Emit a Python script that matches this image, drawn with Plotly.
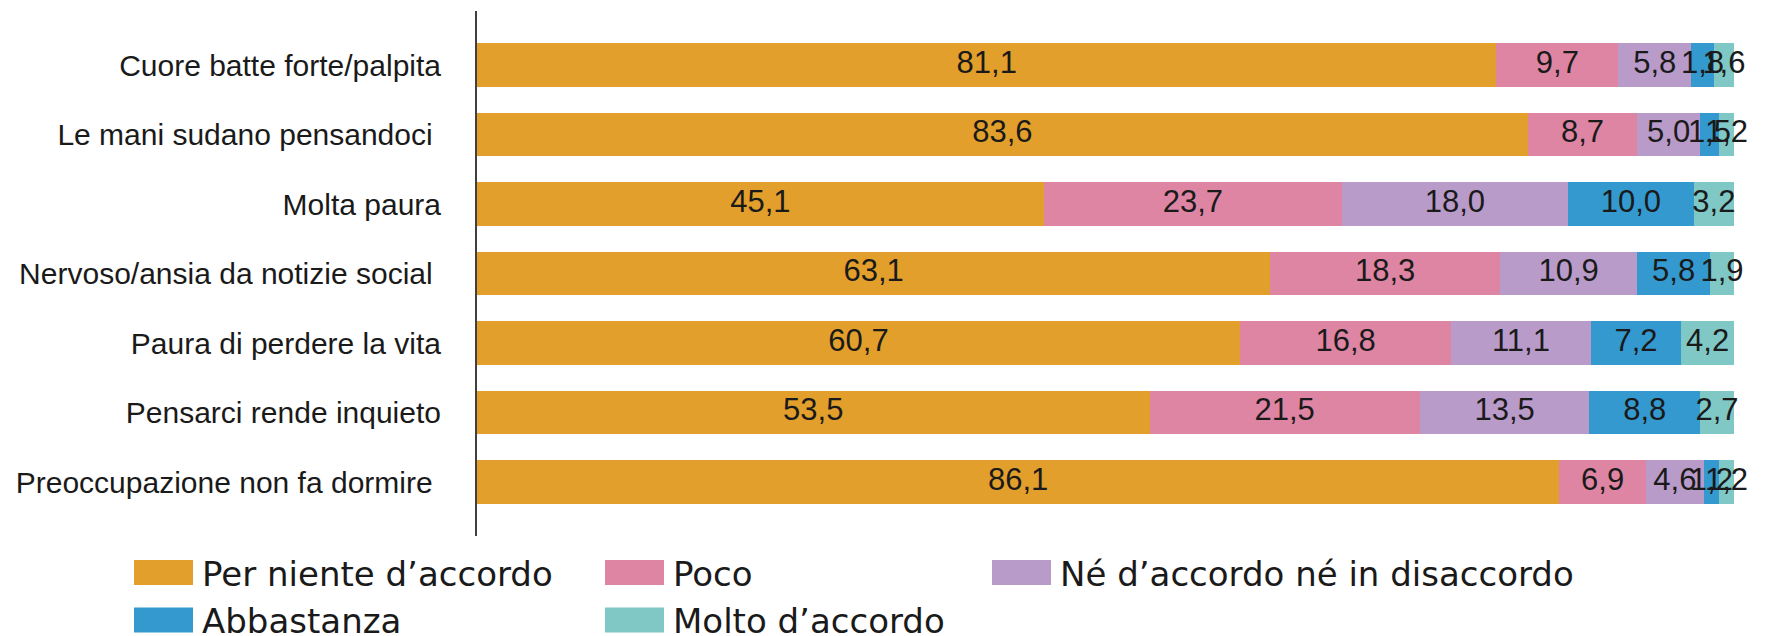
import plotly.graph_objects as go

categories = [
    "Cuore batte forte/palpita",
    "Le mani sudano pensandoci ",
    "Molta paura",
    "Nervoso/ansia da notizie social ",
    "Paura di perdere la vita",
    "Pensarci rende inquieto",
    "Preoccupazione non fa dormire ",
]
series_names = [
    "Per niente d\u2019accordo",
    "Poco",
    "Né d\u2019accordo né in disaccordo",
    "Abbastanza",
    "Molto d\u2019accordo",
]
per_niente = [81.1, 83.6, 45.1, 63.1, 60.7, 53.5, 86.1]
poco = [9.7, 8.7, 23.7, 18.3, 16.8, 21.5, 6.9]
ne_ne = [5.8, 5.0, 18.0, 10.9, 11.1, 13.5, 4.6]
abbastanza = [1.8, 1.5, 10.0, 5.8, 7.2, 8.8, 1.2]
molto = [1.6, 1.2, 3.2, 1.9, 4.2, 2.7, 1.2]
series_values = [per_niente, poco, ne_ne, abbastanza, molto]
colors = ["#E39F2B", "#DE85A4", "#B99BC9", "#3399CF", "#80C8C6"]

OFF = 8  # page body margin
W, H = 1768 - OFF, 636 - OFF
ML, MR, MT, MB = 477 - OFF, 34, 11 - OFF, 100
PW = W - ML - MR
PH = H - MT - MB

FONT = "Liberation Sans, Arial, sans-serif"
TXT = "#1a1a1a"

fig = go.Figure()
for name, vals, col in zip(series_names, series_values, colors):
    fig.add_trace(go.Bar(
        y=categories, x=vals, name=name, orientation="h",
        marker=dict(color=col, line=dict(width=0)),
        showlegend=False, hoverinfo="skip",
    ))

# value labels on top of all bars, centred in each segment
base = [0.0] * len(categories)
for name, vals in zip(series_names, series_values):
    mids = [b + v / 2 for b, v in zip(base, vals)]
    base = [b + v for b, v in zip(base, vals)]
    fig.add_trace(go.Scatter(
        x=mids, y=categories, mode="text",
        text=[f"{v:.1f}".replace(".", ",") for v in vals],
        textposition="middle center", cliponaxis=False,
        textfont=dict(family=FONT, size=31, color=TXT),
        showlegend=False, hoverinfo="skip",
    ))

# manual legend (large swatches)
def px_x(x):
    return (x - OFF - ML) / PW

def px_y(y):
    return (H - MB - (y - OFF)) / PH

col_left = [134, 605, 992]
row_mid = [572.5, 620]
sw_w, sw_h = 59, 25
shapes = []
annotations = []
for i, (name, col) in enumerate(zip(series_names, colors)):
    c, r = i % 3, i // 3
    x0 = col_left[c]
    ym = row_mid[r]
    shapes.append(dict(type="rect", xref="paper", yref="paper",
                       x0=px_x(x0), x1=px_x(x0 + sw_w),
                       y0=px_y(ym + sw_h / 2), y1=px_y(ym - sw_h / 2),
                       fillcolor=col, line=dict(width=0)))
    annotations.append(dict(xref="paper", yref="paper", x=px_x(x0 + sw_w + 7),
                            y=px_y(ym + 1), xanchor="left", yanchor="middle",
                            text=name, showarrow=False,
                            font=dict(family="DejaVu Sans, sans-serif", size=34, color=TXT)))

fig.update_layout(
    width=W, height=H,
    margin=dict(l=ML, r=MR, t=MT, b=MB, pad=0),
    barmode="stack", bargap=0.374,
    paper_bgcolor="white", plot_bgcolor="white",
    showlegend=False,
    shapes=shapes, annotations=annotations,
    xaxis=dict(range=[0, 100], visible=False, showgrid=False, zeroline=False),
    yaxis=dict(categoryorder="array", categoryarray=categories,
               range=[6.777, -0.777], showline=True, linecolor="#404040",
               linewidth=2, ticks="", showgrid=False, zeroline=False,
               ticklabelstandoff=28,
               tickfont=dict(family=FONT, size=30, color=TXT)),
)

fig.write_html("out.html")
